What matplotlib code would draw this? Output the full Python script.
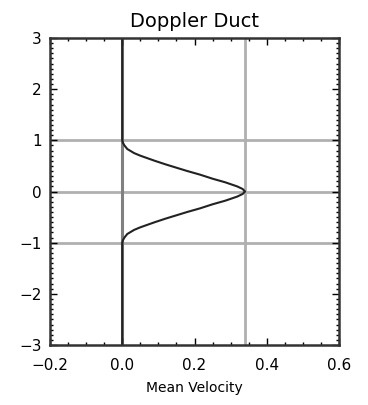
import matplotlib
matplotlib.use("Agg")
from matplotlib import pyplot as plt
from matplotlib.ticker import MultipleLocator

# mean velocity profile across the duct
height = [-3.0, -1.0, -0.95, -0.9, -0.83, -0.75, -0.7, -0.6, -0.53, -0.4, -0.33,
          -0.25, -0.18, -0.1, -0.05, 0.0, 0.05, 0.1, 0.18, 0.25, 0.33, 0.4,
          0.53, 0.6, 0.7, 0.75, 0.83, 0.9, 0.95, 1.0, 3.0]
velocity = [0.0, 0.0, 0.002, 0.006, 0.014, 0.033, 0.05, 0.09, 0.12, 0.18, 0.215,
            0.25, 0.285, 0.318, 0.333, 0.34, 0.333, 0.318, 0.285, 0.25, 0.215, 0.18,
            0.12, 0.09, 0.05, 0.033, 0.014, 0.006, 0.002, 0.0, 0.0]
h_lines = [-1, 0, 1]
v_peak = 0.34

fig = plt.figure(figsize=(3.68, 4.05), dpi=100)
ax = fig.add_axes([50/368, 1 - 345/405, 289/368, 307/405])

for h in h_lines:
    ax.axhline(h, color="#b0b0b0", lw=2, zorder=1)
ax.axvline(v_peak, color="#b0b0b0", lw=2, zorder=1)
ax.axvline(0, color="#808080", lw=2.2, zorder=1)
ax.plot(velocity, height, color="#222222", lw=1.5, zorder=2)

ax.set_xlim(-0.2, 0.6)
ax.set_ylim(-3, 3)
ax.xaxis.set_major_locator(MultipleLocator(0.2))
ax.xaxis.set_minor_locator(MultipleLocator(0.05))
ax.yaxis.set_major_locator(MultipleLocator(1))
ax.yaxis.set_minor_locator(MultipleLocator(0.1))
ax.tick_params(which="both", direction="in", top=True, right=True, width=1)
ax.tick_params(which="major", length=5, labelsize=11, pad=6)
ax.tick_params(which="minor", length=2.5)
ax.tick_params(axis="x", which="major", pad=9)
ax.set_xticklabels([f"{t:.1f}".replace("-", "\u2212") for t in ax.get_xticks()])
for s in ax.spines.values():
    s.set_linewidth(1.8)
    s.set_color("#333333")

ax.set_title("Doppler Duct", fontsize=14, pad=8)
ax.set_xlabel("Mean Velocity", fontsize=10, labelpad=6)

fig.savefig("out.png", dpi=100)
